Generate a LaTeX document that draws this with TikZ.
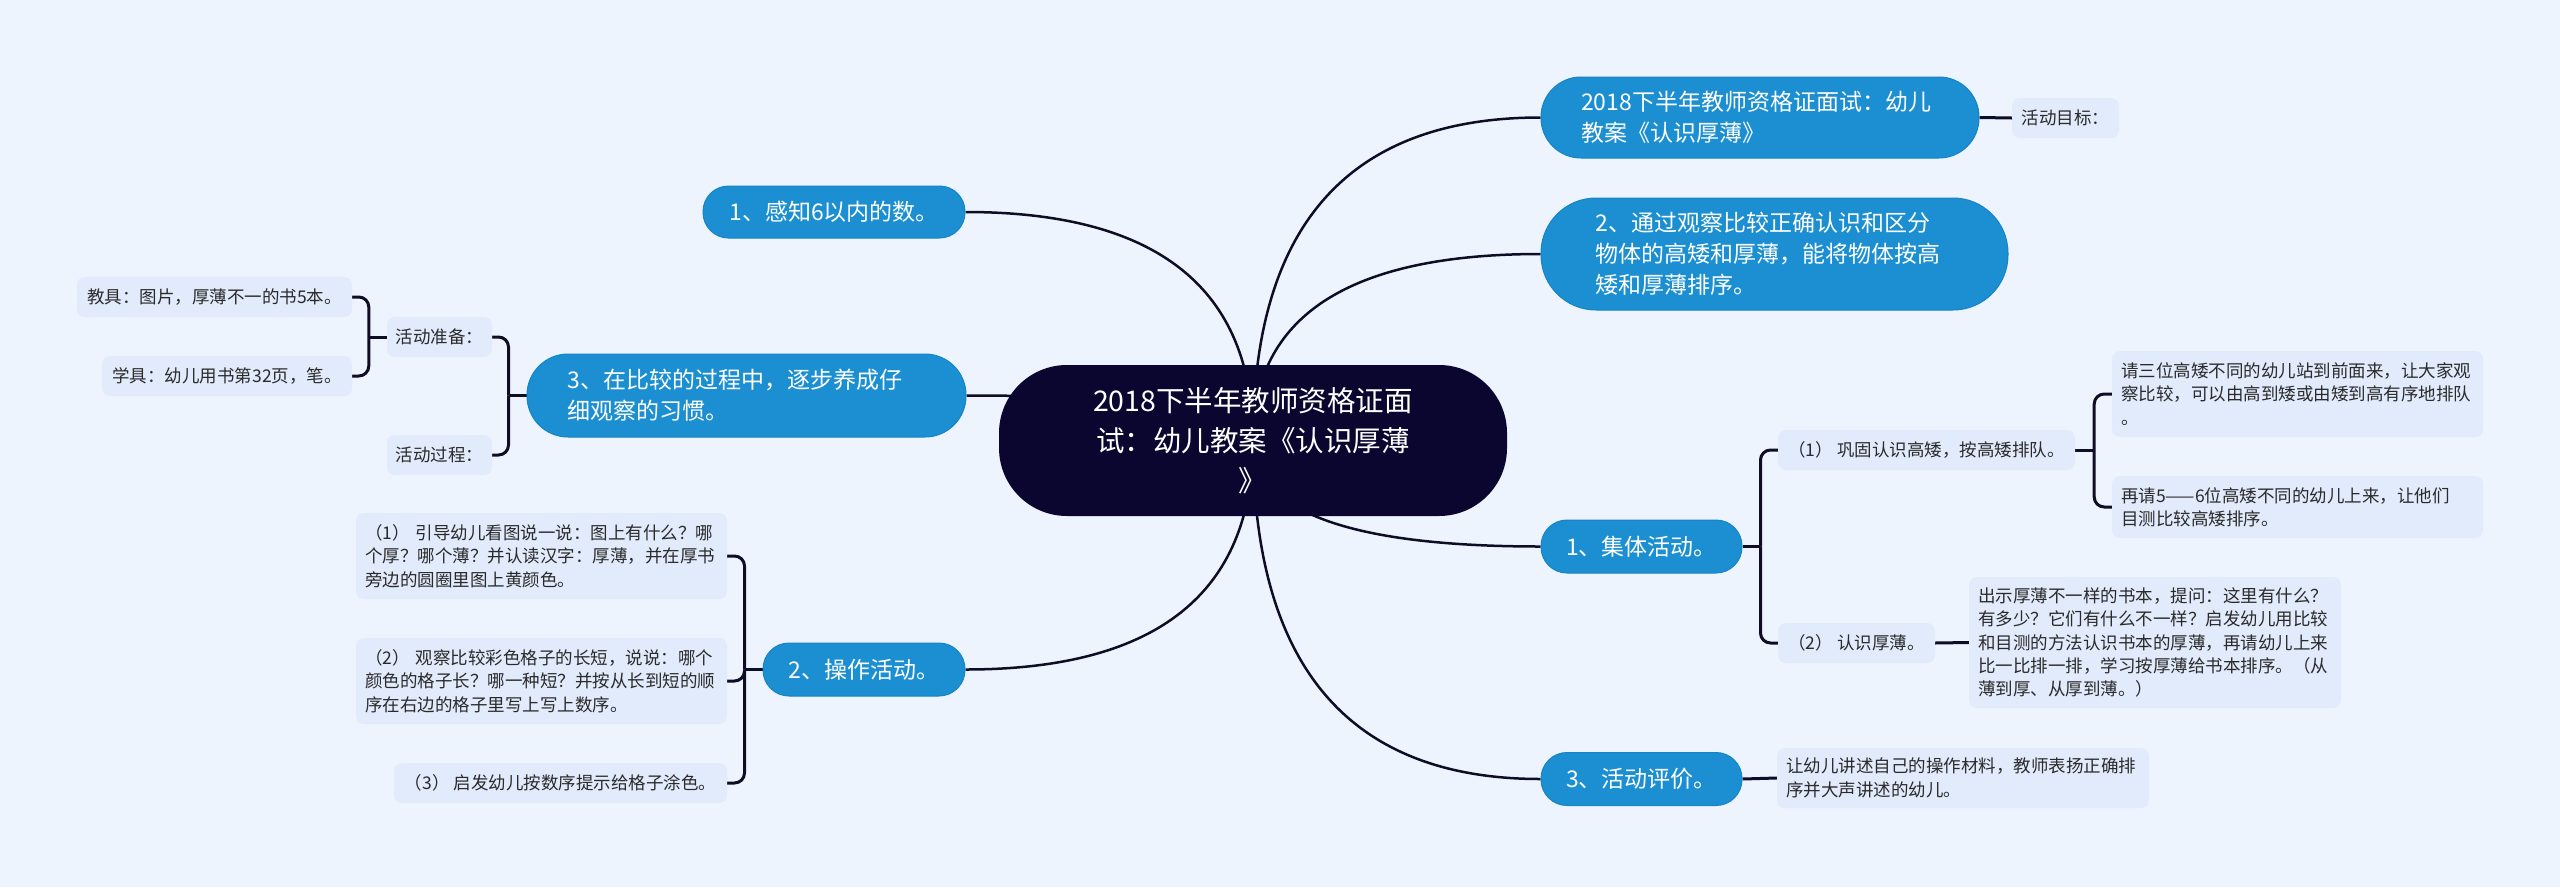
\documentclass[tikz,border=0pt]{standalone}
\usepackage{fontspec}
\setmainfont{Noto Sans CJK SC}
\usetikzlibrary{calc,backgrounds}
\definecolor{bgc}{HTML}{EEF4FE}
\definecolor{rootc}{HTML}{0B0630}
\definecolor{lonec}{HTML}{1B8FD1}
\definecolor{loneb}{HTML}{1784C4}
\definecolor{boxc}{HTML}{E1EBFB}
\definecolor{txtc}{HTML}{2A2A2A}
\definecolor{linec}{HTML}{0F0D26}
\begin{document}
\begin{tikzpicture}[x=1pt,y=-1pt,
  rootn/.style={fill=rootc,text=white,rounded corners=68pt,inner sep=0pt,minimum width=508pt,minimum height=151pt,align=center,font=\fontsize{28.5}{40}\selectfont},
  lone/.style={fill=lonec,draw=loneb,line width=1pt,text=white,inner sep=0pt,font=\fontsize{23}{31}\selectfont},
  lwrap/.style={lone,text width=358pt,align=left},
  lsingle/.style={lone,align=center},
  sbox/.style={fill=boxc,text=txtc,rounded corners=8pt,inner sep=0pt,font=\fontsize{17.5}{23.3}\selectfont,minimum height=40pt,align=center},
  swrap/.style={sbox,text width=353pt,align=left},
  curve/.style={draw=linec,line width=2.5pt,to path={.. controls ($(\tikztostart)!2/3!(\tikztostart |- \tikztotarget)$) and ($(\tikztotarget)!2/3!(\tikztostart |- \tikztotarget)$) .. (\tikztotarget)}},
  brace/.style={draw=linec,line width=3pt,rounded corners=10pt},
  link/.style={draw=linec,line width=3pt},
]
\useasboundingbox (0,0) rectangle (2560,887);

% root
\node[rootn] (root) at (1253,440.5) {2018下半年教师资格证面\\试：幼儿教案《认识厚薄\\》};

% level 1, right
\node[lwrap,minimum width=438pt,minimum height=81pt,rounded corners=40pt] (ga) at (1760,117.5) {2018下半年教师资格证面试：幼儿\\教案《认识厚薄》};
\node[lwrap,minimum width=467pt,minimum height=112pt,rounded corners=55pt] (gb) at (1774.5,254) {2、通过观察比较正确认识和区分\\物体的高矮和厚薄，能将物体按高\\矮和厚薄排序。};
\node[lsingle,minimum width=201pt,minimum height=53pt,rounded corners=26pt] (jt) at (1641.5,546.5) {1、集体活动。};
\node[lsingle,minimum width=201pt,minimum height=53pt,rounded corners=26pt] (pj) at (1641.5,779) {3、活动评价。};

% level 1, left
\node[lsingle,minimum width=262pt,minimum height=52pt,rounded corners=25.5pt] (gz) at (834,212) {1、感知6以内的数。};
\node[lwrap,minimum width=439pt,minimum height=83pt,rounded corners=41pt] (gc) at (746.5,395.5) {3、在比较的过程中，逐步养成仔\\细观察的习惯。};
\node[lsingle,minimum width=202pt,minimum height=53pt,rounded corners=26pt] (cz) at (864,669.5) {2、操作活动。};

% small boxes, right
\node[sbox,minimum width=107pt] (mb) at (2065.5,118) {活动目标：};
\node[sbox,minimum width=297pt] (g1) at (1926.5,450) {（1） 巩固认识高矮，按高矮排队。};
\node[swrap,minimum width=371pt,minimum height=86pt] (g1a) at (2297.5,394) {请三位高矮不同的幼儿站到前面来，让大家观\\察比较，可以由高到矮或由矮到高有序地排队\\。};
\node[swrap,minimum width=371pt,minimum height=62pt] (g1b) at (2297.5,507) {再请5——6位高矮不同的幼儿上来，让他们\\目测比较高矮排序。};
\node[sbox,minimum width=157pt] (g2) at (1856.5,643) {（2） 认识厚薄。};
\node[swrap,minimum width=372pt,minimum height=131pt,text width=354pt] (g2a) at (2155,642.5) {出示厚薄不一样的书本，提问：这里有什么？\\有多少？它们有什么不一样？启发幼儿用比较\\和目测的方法认识书本的厚薄，再请幼儿上来\\比一比排一排，学习按厚薄给书本排序。（从\\薄到厚、从厚到薄。）};
\node[swrap,minimum width=372pt,minimum height=60pt,text width=354pt] (pja) at (1963,778) {让幼儿讲述自己的操作材料，教师表扬正确排\\序并大声讲述的幼儿。};

% small boxes, left
\node[sbox,minimum width=105pt] (zb) at (439.5,337) {活动准备：};
\node[sbox,minimum width=105pt] (gcp) at (439.5,455) {活动过程：};
\node[sbox,minimum width=275pt] (jj) at (214.5,297) {教具：图片，厚薄不一的书5本。};
\node[sbox,minimum width=250pt] (xj) at (227,376) {学具：幼儿用书第32页，笔。};
\node[swrap,minimum width=371pt,minimum height=86pt] (c1) at (541.5,556) {（1） 引导幼儿看图说一说：图上有什么？哪\\个厚？哪个薄？并认读汉字：厚薄，并在厚书\\旁边的圆圈里图上黄颜色。};
\node[swrap,minimum width=371pt,minimum height=86pt] (c2) at (541.5,681) {（2） 观察比较彩色格子的长短，说说：哪个\\颜色的格子长？哪一种短？并按从长到短的顺\\序在右边的格子里写上写上数序。};
\node[sbox,minimum width=333pt] (c3) at (560.5,783) {（3） 启发幼儿按数序提示给格子涂色。};

\begin{pgfonlayer}{background}
\fill[bgc] (0,0) rectangle (2560,887);
% main curves
\draw[curve] (root.center) to (ga.west);
\draw[curve] (root.center) to (gb.west);
\draw[curve] (root.center) to (jt.west);
\draw[curve] (root.center) to (pj.west);
\draw[curve] (root.center) to (gz.east);
\draw[curve] (root.center) to (gc.east);
\draw[curve] (root.center) to (cz.east);
% single links
\draw[link] (ga.east) -- (mb.west);
\draw[link] (g2.east) -- (g2a.west);
\draw[link] (pj.east) -- (pja.west);
% braces right
\coordinate (jjt) at ($(jt.east)+(18,0)$);
\draw[link] (jt.east) -- (jjt);
\draw[brace] (jjt) |- (g1.west);
\draw[brace] (jjt) |- (g2.west);
\coordinate (jg1) at ($(g1.east)+(19,0)$);
\draw[link] (g1.east) -- (jg1);
\draw[brace] (jg1) |- (g1a.west);
\draw[brace] (jg1) |- (g1b.west);
% braces left
\coordinate (jgc) at ($(gc.west)+(-18,0)$);
\draw[link] (gc.west) -- (jgc);
\draw[brace] (jgc) |- (zb.east);
\draw[brace] (jgc) |- (gcp.east);
\coordinate (jzb) at ($(zb.west)+(-18,0)$);
\draw[link] (zb.west) -- (jzb);
\draw[brace] (jzb) |- (jj.east);
\draw[brace] (jzb) |- (xj.east);
\coordinate (jcz) at ($(cz.west)+(-18,0)$);
\draw[link] (cz.west) -- (jcz);
\draw[brace] (jcz) |- (c1.east);
\draw[brace] (jcz) |- (c2.east);
\draw[brace] (jcz) |- (c3.east);
\end{pgfonlayer}
\end{tikzpicture}
\end{document}
